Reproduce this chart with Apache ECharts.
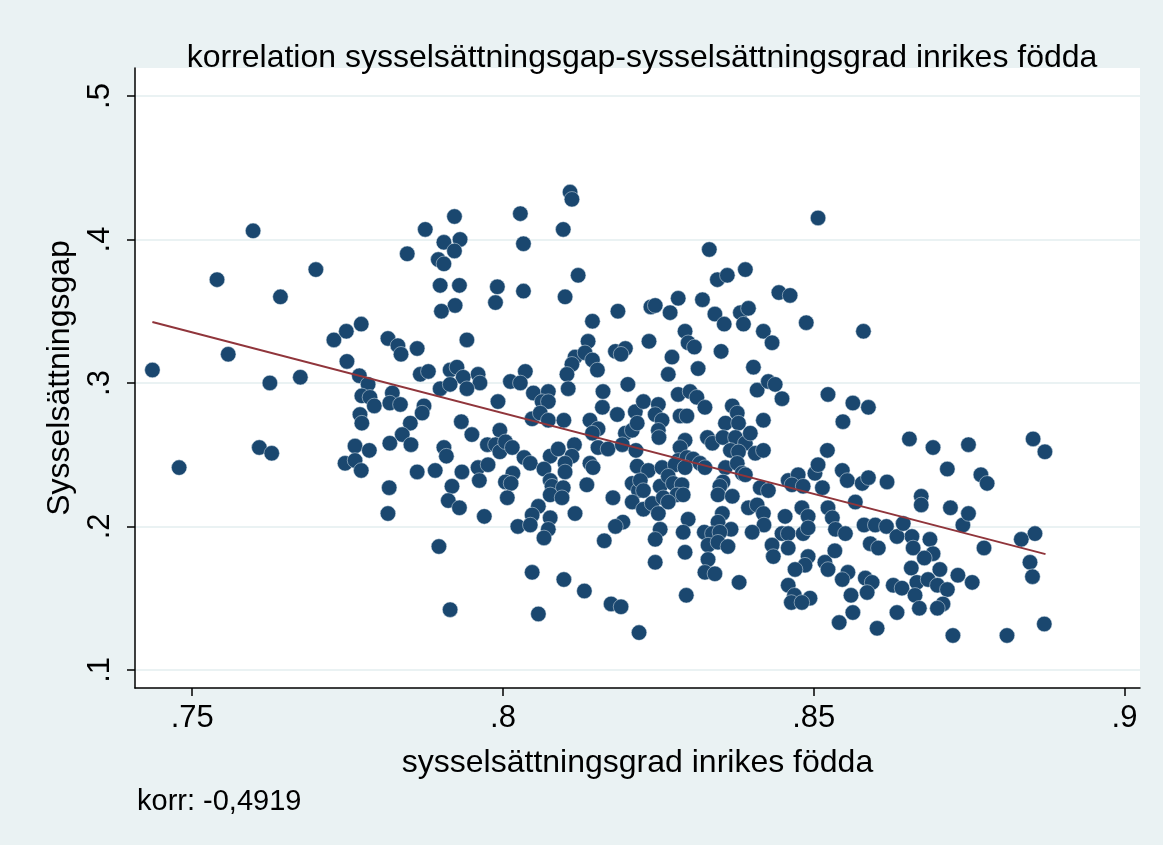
<!DOCTYPE html>
<html>
<head>
<meta charset="utf-8">
<title>korrelation</title>
<script src="https://cdn.jsdelivr.net/npm/echarts@6/dist/echarts.min.js"></script>
<style>
  html, body { margin: 0; padding: 0; background: #eaf2f3; }
  #chart { width: 1163px; height: 845px; }
</style>
</head>
<body>
<div id="chart"></div>
<script>
// sysselsättningsgrad inrikes födda (x) och sysselsättningsgap (y)
const xVals = [
  0.7436, 0.7479, 0.7540, 0.7558, 0.7598, 0.7608, 0.7625, 0.7628, 0.7642, 0.7674,
  0.7699, 0.7728, 0.7748, 0.7772, 0.7749, 0.7769, 0.7783, 0.7773, 0.7786, 0.7793,
  0.7822, 0.7770, 0.7773, 0.7762, 0.7785, 0.7746, 0.7762, 0.7772, 0.7817, 0.7815,
  0.7815,
  0.8108, 0.8111, 0.8028, 0.7922, 0.7875, 0.8097, 0.7905, 0.7931, 0.7922, 0.8033,
  0.7846, 0.7896, 0.7905, 0.8121, 0.7899, 0.7930, 0.7991, 0.8033, 0.8100, 0.7988,
  0.7923, 0.7901, 0.8185, 0.8144, 0.7942, 0.7831, 0.7836, 0.7862, 0.8137, 0.8181,
  0.8197, 0.8190, 0.8116, 0.8132, 0.8111, 0.8144, 0.8152, 0.8103, 0.7867, 0.7880,
  0.7915, 0.7926, 0.7960, 0.8036, 0.8012,
  0.7936, 0.7963, 0.7899, 0.7915, 0.7942, 0.8028, 0.8105, 0.8201, 0.8161, 0.8049,
  0.8073, 0.8063, 0.8073, 0.7992, 0.7818, 0.7835, 0.7873, 0.7870, 0.8160, 0.8184,
  0.8213, 0.7851, 0.7933, 0.7950, 0.7995, 0.8047, 0.8060, 0.8073, 0.8098, 0.8140,
  0.8153, 0.8144, 0.8197, 0.8208, 0.7838, 0.7818, 0.7852, 0.7905, 0.7909, 0.7975,
  0.7988, 0.7995, 0.8004, 0.8015, 0.8034, 0.8044, 0.8076, 0.8089, 0.8115, 0.8111,
  0.8153, 0.8169, 0.8192, 0.8214, 0.7960, 0.7976, 0.7862, 0.7891, 0.7934, 0.8066,
  0.8100, 0.8100, 0.8140, 0.8145, 0.8216, 0.7962, 0.8016, 0.8004, 0.8013, 0.8076,
  0.8079, 0.8097, 0.8135, 0.8208, 0.8218, 0.7918, 0.7912, 0.7930, 0.8007, 0.8076,
  0.8095, 0.8177, 0.8208, 0.7970, 0.8057, 0.8047, 0.8076, 0.8116, 0.8193, 0.8181,
  0.8024, 0.8044, 0.8073,
  0.7897, 0.8047, 0.8098, 0.8131, 0.8174, 0.8190, 0.7915, 0.8057, 0.8219, 0.8066,
  0.8163,
  0.8507, 0.8332, 0.8345, 0.8361, 0.8390, 0.8444, 0.8462, 0.8282, 0.8321, 0.8238,
  0.8245, 0.8269, 0.8341, 0.8382, 0.8395, 0.8356, 0.8387, 0.8488, 0.8580, 0.8293,
  0.8235, 0.8419, 0.8433, 0.8298, 0.8308, 0.8351, 0.8272, 0.8314, 0.8403, 0.8266,
  0.8282, 0.8301, 0.8312, 0.8325, 0.8409, 0.8427, 0.8438, 0.8449, 0.8523, 0.8563,
  0.8588, 0.8547, 0.8226, 0.8250, 0.8245, 0.8256, 0.8285, 0.8296, 0.8369, 0.8377,
  0.8358, 0.8379, 0.8419, 0.8216, 0.8250, 0.8251, 0.8329, 0.8337, 0.8293, 0.8285,
  0.8354, 0.8374, 0.8390, 0.8398, 0.8366, 0.8379, 0.8406, 0.8419, 0.8522, 0.8234,
  0.8256, 0.8282, 0.8296, 0.8306, 0.8317, 0.8325, 0.8277, 0.8293, 0.8358, 0.8377,
  0.8385, 0.8390, 0.8354, 0.8349, 0.8221, 0.8226, 0.8226, 0.8240, 0.8253, 0.8266,
  0.8274, 0.8288, 0.8280, 0.8290, 0.8258, 0.8250, 0.8266, 0.8346, 0.8369, 0.8414,
  0.8427, 0.8459, 0.8475, 0.8465, 0.8483, 0.8502, 0.8507, 0.8514, 0.8546, 0.8554,
  0.8578, 0.8588, 0.8618, 0.8567, 0.8395, 0.8409, 0.8419, 0.8420, 0.8353, 0.8346,
  0.8298, 0.8253, 0.8324, 0.8367, 0.8454, 0.8481, 0.8491, 0.8523, 0.8530, 0.8581,
  0.8599, 0.8617,
  0.8245, 0.8290, 0.8337, 0.8349, 0.8330, 0.8346, 0.8362, 0.8401, 0.8449, 0.8459,
  0.8483, 0.8491, 0.8433, 0.8459, 0.8435, 0.8535, 0.8551, 0.8591, 0.8604, 0.8245,
  0.8293, 0.8330, 0.8325, 0.8341, 0.8380, 0.8491, 0.8486, 0.8470, 0.8518, 0.8523,
  0.8534, 0.8555, 0.8546, 0.8583, 0.8594, 0.8586, 0.8560, 0.8459, 0.8469, 0.8494,
  0.8464, 0.8481, 0.8295, 0.8563, 0.8541, 0.8602,
  0.8856, 0.8834, 0.8774, 0.8687, 0.8658, 0.8634, 0.8660, 0.8692, 0.8678, 0.8848,
  0.8852, 0.8657, 0.8703, 0.8732, 0.8755, 0.8666, 0.8684, 0.8699, 0.8628, 0.8642,
  0.8715, 0.8663, 0.8708, 0.8699, 0.8670, 0.8634, 0.8871, 0.8724, 0.8811, 0.8740,
  0.8654, 0.8692, 0.8749, 0.8853, 0.8872, 0.8715, 0.8769, 0.8779, 0.8673, 0.8673,
  0.8720, 0.8749, 0.8644
];
const yVals = [
  0.309, 0.241, 0.372, 0.320, 0.406, 0.255, 0.300, 0.251, 0.360, 0.304,
  0.379, 0.330, 0.336, 0.341, 0.315, 0.305, 0.299, 0.291, 0.290, 0.284,
  0.293, 0.278, 0.272, 0.256, 0.253, 0.244, 0.246, 0.239, 0.227, 0.209,
  0.331,
  0.433, 0.428, 0.418, 0.416, 0.407, 0.407, 0.398, 0.400, 0.392, 0.397,
  0.390, 0.386, 0.383, 0.375, 0.368, 0.368, 0.367, 0.364, 0.360, 0.356,
  0.354, 0.350, 0.350, 0.343, 0.330, 0.326, 0.320, 0.324, 0.329, 0.322,
  0.324, 0.320, 0.318, 0.321, 0.313, 0.316, 0.309, 0.306, 0.306, 0.308,
  0.309, 0.311, 0.306, 0.308, 0.301,
  0.304, 0.300, 0.296, 0.299, 0.296, 0.300, 0.296, 0.299, 0.294, 0.293,
  0.294, 0.287, 0.287, 0.287, 0.286, 0.285, 0.284, 0.279, 0.283, 0.278,
  0.280, 0.272, 0.273, 0.264, 0.267, 0.275, 0.279, 0.274, 0.274, 0.274,
  0.268, 0.265, 0.265, 0.267, 0.264, 0.258, 0.257, 0.255, 0.249, 0.257,
  0.257, 0.252, 0.259, 0.255, 0.248, 0.244, 0.249, 0.254, 0.257, 0.249,
  0.255, 0.254, 0.257, 0.253, 0.241, 0.243, 0.238, 0.239, 0.238, 0.240,
  0.244, 0.238, 0.244, 0.241, 0.242, 0.232, 0.237, 0.231, 0.230, 0.232,
  0.228, 0.227, 0.229, 0.230, 0.225, 0.228, 0.218, 0.213, 0.220, 0.222,
  0.220, 0.220, 0.217, 0.207, 0.214, 0.208, 0.206, 0.209, 0.203, 0.200,
  0.200, 0.201, 0.198,
  0.186, 0.168, 0.163, 0.155, 0.146, 0.144, 0.142, 0.139, 0.126, 0.192,
  0.190,
  0.415, 0.393, 0.372, 0.375, 0.379, 0.363, 0.361, 0.359, 0.358, 0.353,
  0.354, 0.349, 0.348, 0.349, 0.352, 0.341, 0.341, 0.342, 0.336, 0.336,
  0.329, 0.336, 0.328, 0.328, 0.325, 0.322, 0.318, 0.310, 0.311, 0.306,
  0.292, 0.294, 0.290, 0.283, 0.295, 0.301, 0.299, 0.289, 0.292, 0.286,
  0.283, 0.273, 0.287, 0.285, 0.278, 0.274, 0.277, 0.277, 0.284, 0.279,
  0.272, 0.272, 0.274, 0.272, 0.267, 0.262, 0.262, 0.258, 0.260, 0.255,
  0.262, 0.262, 0.258, 0.265, 0.253, 0.252, 0.251, 0.253, 0.253, 0.239,
  0.241, 0.246, 0.248, 0.247, 0.244, 0.241, 0.243, 0.241, 0.241, 0.244,
  0.237, 0.236, 0.231, 0.228, 0.232, 0.225, 0.212, 0.216, 0.228, 0.235,
  0.230, 0.229, 0.222, 0.222, 0.220, 0.209, 0.217, 0.222, 0.221, 0.227,
  0.225, 0.232, 0.236, 0.229, 0.228, 0.237, 0.243, 0.227, 0.239, 0.232,
  0.230, 0.234, 0.231, 0.217, 0.213, 0.215, 0.209, 0.201, 0.209, 0.203,
  0.205, 0.198, 0.196, 0.198, 0.207, 0.213, 0.207, 0.213, 0.206, 0.201,
  0.201, 0.200,
  0.191, 0.196, 0.195, 0.196, 0.187, 0.189, 0.186, 0.196, 0.195, 0.195,
  0.195, 0.199, 0.187, 0.185, 0.179, 0.198, 0.195, 0.188, 0.185, 0.175,
  0.182, 0.177, 0.168, 0.167, 0.161, 0.179, 0.173, 0.170, 0.175, 0.170,
  0.183, 0.168, 0.163, 0.164, 0.161, 0.154, 0.152, 0.159, 0.152, 0.150,
  0.147, 0.147, 0.152, 0.140, 0.133, 0.129,
  0.195, 0.191, 0.185, 0.191, 0.193, 0.193, 0.185, 0.181, 0.178, 0.175,
  0.165, 0.171, 0.170, 0.166, 0.161, 0.161, 0.163, 0.159, 0.159, 0.157,
  0.156, 0.152, 0.146, 0.143, 0.143, 0.140, 0.132, 0.124, 0.124, 0.201,
  0.261, 0.255, 0.257, 0.261, 0.252, 0.240, 0.236, 0.230, 0.221, 0.215,
  0.213, 0.209, 0.202
];

// anpassad linje (lfit), ändpunkter avlästa
const fitX = [0.7436, 0.8873];
const fitY = [0.3425, 0.1807];

const xTicks = [0.75, 0.8, 0.85, 0.9];
const yTicks = [0.1, 0.2, 0.3, 0.4, 0.5];

const points = xVals.map((x, i) => [x, yVals[i]]);
const fitLine = fitX.map((x, i) => [x, fitY[i]]);

// Stata-stil: ".75" istället för "0.75"
function dropZero(v) {
  return String(+v.toFixed(2)).replace(/^0\./, '.');
}

const font = 'Liberation Sans, Helvetica, Arial, sans-serif';
const chart = echarts.init(document.getElementById('chart'));

chart.setOption({
  backgroundColor: '#eaf2f3',
  animation: false,
  title: {
    text: 'korrelation sysselsättningsgap-sysselsättningsgrad inrikes födda',
    left: 637, top: 37, textAlign: 'center',
    textStyle: { fontFamily: font, fontSize: 32, fontWeight: 'normal', color: '#000' }
  },
  graphic: [
    { type: 'rect', z: -1, shape: { x: 135, y: 68, width: 1005, height: 620 },
      style: { fill: '#ffffff' } },
    { type: 'text', left: 137, top: 787,
      style: { text: 'korr: -0,4919', font: '29px ' + font, fill: '#000' } }
  ],
  grid: { left: 135, right: 23, top: 68, bottom: 157 },
  xAxis: {
    type: 'value', min: 0.7408, max: 0.9025,
    name: 'sysselsättningsgrad inrikes födda',
    nameLocation: 'middle', nameGap: 59,
    nameTextStyle: { fontFamily: font, fontSize: 32, color: '#000' },
    axisLine: { show: true, lineStyle: { color: '#000', width: 1.5 } },
    axisTick: { show: true, length: 8, customValues: xTicks, lineStyle: { color: '#000', width: 1.5 } },
    axisLabel: { customValues: xTicks, margin: 15, formatter: dropZero,
                 fontFamily: font, fontSize: 31, color: '#000' },
    splitLine: { show: false }
  },
  yAxis: {
    type: 'value', min: 0.0874, max: 0.5195,
    name: 'Sysselsättningsgap',
    nameLocation: 'middle', nameGap: 59, nameRotate: 90,
    nameTextStyle: { fontFamily: font, fontSize: 32, color: '#000' },
    axisLine: { show: true, lineStyle: { color: '#000', width: 1.5 } },
    axisTick: { show: true, length: 8, customValues: yTicks, lineStyle: { color: '#000', width: 1.5 } },
    axisLabel: { customValues: yTicks, margin: 19, rotate: 90, formatter: dropZero,
                 fontFamily: font, fontSize: 31, color: '#000' },
    splitLine: { show: true, lineStyle: { color: '#eaf2f3', width: 2 } }
  },
  series: [
    {
      type: 'scatter',
      data: points,
      symbol: 'circle',
      symbolSize: 15.5,
      itemStyle: { color: '#1a476f', opacity: 1, borderColor: '#dfe8ee', borderWidth: 0.5 },
      z: 2
    },
    {
      type: 'line',
      data: fitLine,
      symbol: 'none',
      lineStyle: { color: '#90353b', width: 2 },
      z: 3
    }
  ]
});
</script>
</body>
</html>
